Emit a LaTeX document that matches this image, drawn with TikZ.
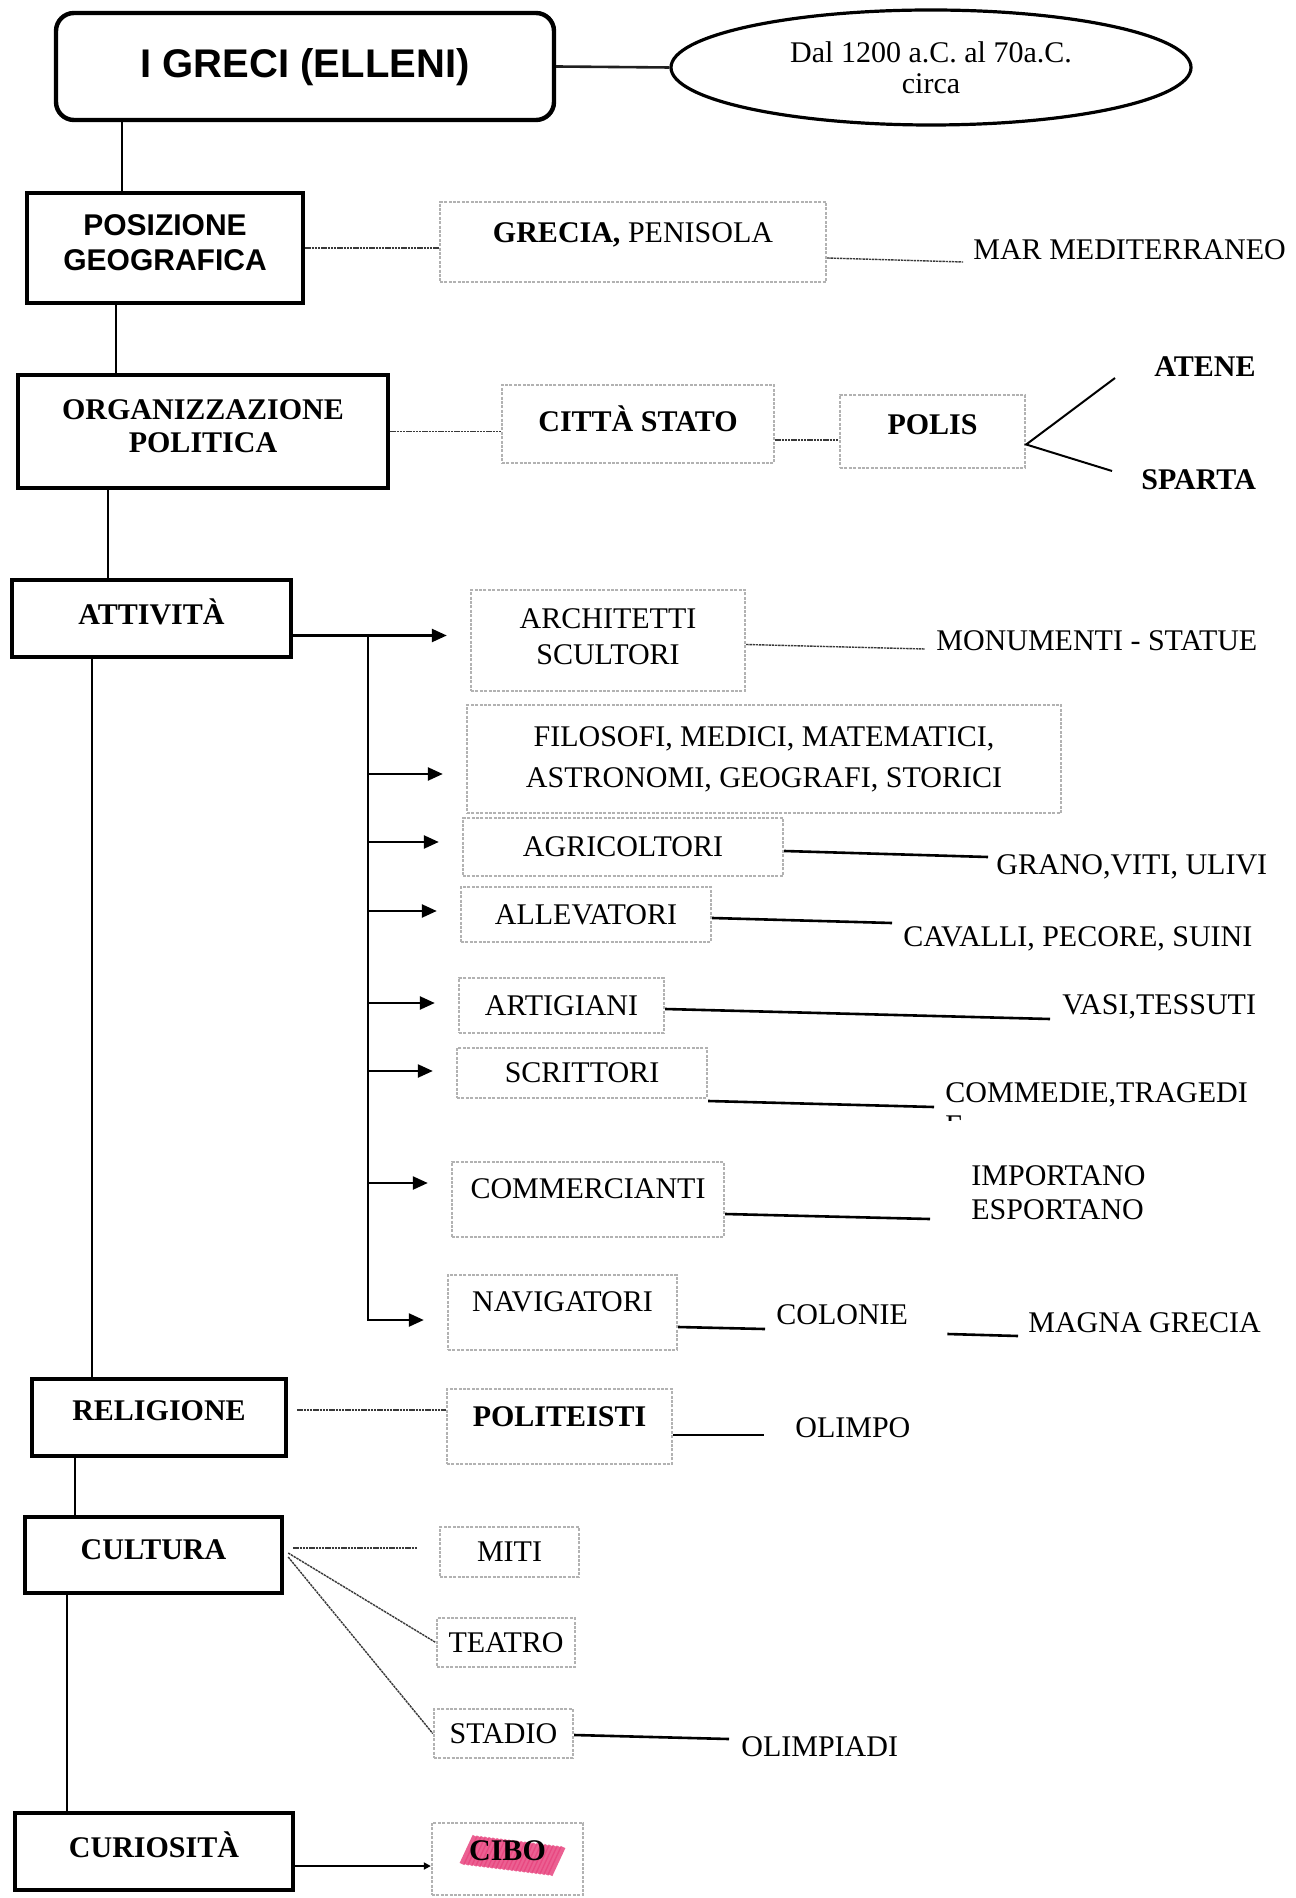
\documentclass[tikz,border=0pt]{standalone}
\usepackage{fontspec}
\setmainfont{Liberation Serif}
\setsansfont{Liberation Sans}
\usetikzlibrary{arrows.meta,shapes.geometric}
\definecolor{hlpink}{RGB}{232,69,127}
\begin{document}
\begin{tikzpicture}[x=0.5pt,y=-0.5pt,
  sz/.style 2 args={minimum width=#1*0.5pt,minimum height=#2*0.5pt},
  bx/.style={inner sep=0pt,font=\fontsize{15}{17.5}\selectfont,align=center},
  bf/.style={font=\fontsize{15}{17.5}\selectfont\bfseries},
  mainbox/.style={bx,draw=black,line width=2.2pt,font=\fontsize{15}{17.5}\selectfont\bfseries},
  sansbox/.style={mainbox,font=\fontsize{15}{17.5}\selectfont\sffamily\bfseries},
  subbox/.style={bx,draw=gray!60,line width=1.2pt,dash pattern=on 1.5pt off 0.7pt},
  lbl/.style={inner sep=0pt,font=\fontsize{15}{17.5}\selectfont,anchor=west,align=left},
  lift/.style={text depth=#1pt},
  fine/.style={draw=gray!45!black,line width=0.7pt,dash pattern=on 1.2pt off 0.4pt},
  strong/.style={draw=black,line width=1.3pt},
  spine/.style={draw=black,line width=0.8pt},
  forkline/.style={draw=black,line width=1pt},
  arr/.style={draw=black,line width=1.2pt,-{Triangle[length=7.5pt,width=6.5pt]},shorten >=11.5pt},
]
\fill[white] (0,0) rectangle (1295,1898);
\useasboundingbox (0,0) rectangle (1295,1898);

% ---------- header ----------
\node[sansbox,sz={498}{107},rounded corners=9pt,font=\fontsize{20}{24}\selectfont\sffamily\bfseries,lift=3] (title) at (305,66.5) {I GRECI (ELLENI)};
\node[ellipse,draw=black,line width=1.6pt,bx,sz={520}{115},font=\fontsize{15}{15.5}\selectfont] (era) at (931,67.5) {Dal 1200 a.C. al 70a.C.\\circa};

% ---------- posizione ----------
\node[sansbox,sz={276}{110},lift=5.5] (pos) at (165,248) {POSIZIONE\\GEOGRAFICA};
\node[subbox,sz={386}{80},lift=9] (gre) at (633,242) {\textbf{GRECIA,} PENISOLA};
\node[lbl] (mar) at (973,250) {MAR MEDITERRANEO};

% ---------- organizzazione ----------
\node[mainbox,sz={370}{113},lift=5,font=\fontsize{15}{16.5}\selectfont\bfseries] (org) at (203,431.5) {ORGANIZZAZIONE\\POLITICA};
\node[subbox,bf,sz={272}{78},lift=5] (cit) at (638,424) {CITTÀ STATO};
\node[subbox,bf,sz={185}{73},lift=6.5] (pol) at (932.5,431.5) {POLIS};
\node[lbl,bf] (ate) at (1154,367) {ATENE};
\node[lbl,bf] (spa) at (1141,480) {SPARTA};

% ---------- attivita ----------
\node[mainbox,sz={279}{77},lift=6.5] (att) at (151.5,618.5) {ATTIVITÀ};
\node[subbox,sz={274}{101},lift=3.5,font=\fontsize{15}{18}\selectfont] (arc) at (608,640.5) {ARCHITETTI\\SCULTORI};
\node[lbl] (mon) at (936,641) {MONUMENTI - STATUE};
\node[subbox,sz={594}{108},lift=2,font=\fontsize{15}{20.5}\selectfont] (fil) at (764,759) {FILOSOFI, MEDICI, MATEMATICI,\\ASTRONOMI, GEOGRAFI, STORICI};
\node[subbox,sz={320}{58}] (agr) at (623,847) {AGRICOLTORI};
\node[lbl] (gra) at (996,867) {GRANO,VITI, ULIVI};
\node[subbox,sz={250}{55}] (all) at (586,914.5) {ALLEVATORI};
\node[lbl] (cav) at (903,939) {CAVALLI, PECORE, SUINI};
\node[subbox,sz={205}{55}] (art) at (561.5,1005.5) {ARTIGIANI};
\node[lbl] (vas) at (1062,1007) {VASI,TESSUTI};
\node[subbox,sz={250}{50}] (scr) at (582,1073) {SCRITTORI};
\node[lbl] (com) at (945,1095) {COMMEDIE,TRAGEDI};
\begin{scope}
  \clip (930,1108) rectangle (985,1120);
  \node[lbl,anchor=base west] (efrag) at (945,1135) {E};
\end{scope}
\node[subbox,sz={272}{75},lift=10.5] (cmm) at (588,1199.5) {COMMERCIANTI};
\node[lbl,font=\fontsize{15}{17}\selectfont] (imp) at (971,1193) {IMPORTANO\\ESPORTANO};
\node[subbox,sz={229}{75},lift=10.5] (nav) at (562.5,1312.5) {NAVIGATORI};
\node[lbl] (col) at (776,1315) {COLONIE};
\node[lbl] (mag) at (1028,1323) {MAGNA GRECIA};

% ---------- religione ----------
\node[mainbox,sz={254}{77},lift=6.5] (rel) at (159,1417.5) {RELIGIONE};
\node[subbox,bf,sz={225}{75},lift=9.5] (pte) at (559.5,1426.5) {POLITEISTI};
\node[lbl] (oli) at (795,1428) {OLIMPO};

% ---------- cultura ----------
\node[mainbox,sz={257}{76},lift=5] (cul) at (153.5,1555) {CULTURA};
\node[subbox,sz={139}{50}] (mit) at (509.5,1552) {MITI};
\node[subbox,sz={138}{49}] (tea) at (506,1642.5) {TEATRO};
\node[subbox,sz={139}{49}] (sta) at (503.5,1733.5) {STADIO};
\node[lbl] (olp) at (741,1747) {OLIMPIADI};

% ---------- curiosita ----------
\node[mainbox,sz={278}{77},lift=6.5] (cur) at (154,1851.5) {CURIOSITÀ};
\foreach \k in {0,...,22} {
  \pgfmathsetmacro\xx{462+4*\k}
  \pgfmathsetmacro\yy{1864+0.5*\k}
  \draw[hlpink,line width=2.6pt,opacity=0.85] (\xx,\yy) -- (\xx+13,\yy-28);
}
\node[subbox,bf,sz={151}{72},lift=8] (cib) at (507.5,1859) {CIBO};

% ---------- spine ----------
\coordinate (s1) at (122,0);
\coordinate (s2) at (116,0);
\coordinate (s3) at (108,0);
\coordinate (s4) at (92,0);
\coordinate (s5) at (75,0);
\coordinate (s6) at (67,0);
\coordinate (tx) at (368,0);
\draw[spine] (title.south -| s1) -- (pos.north -| s1);
\draw[spine] (pos.south -| s2) -- (org.north -| s2);
\draw[spine] (org.south -| s3) -- (att.north -| s3);
\draw[spine] (att.south -| s4) -- (rel.north -| s4);
\draw[spine] (rel.south -| s5) -- (cul.north -| s5);
\draw[spine] (cul.south -| s6) -- (cur.north -| s6);

% ---------- connectors ----------
\draw[strong,draw=gray!25!black] (title.east) -- (era.west);
\draw[fine] (pos.east) -- (pos.east -| gre.west);
\draw[fine] ([yshift=-8pt]gre.east) -- ([xshift=-5pt,yshift=-6pt]mar.west);
\draw[fine] (org.east) -- (org.east -| cit.west);
\coordinate (cp) at ([yshift=-8pt]cit.east);
\draw[fine] (cp) -- (cp -| pol.west);
\coordinate (fork) at ([yshift=-6.5pt]pol.east);
\coordinate (ateE) at (1115,378);
\coordinate (spaE) at (1112,471);
\draw[forkline] (ateE) -- (fork) -- (spaE);

\coordinate (pa) at ([yshift=2.5pt]arc.west);
\coordinate (pn) at ([yshift=-3.75pt]nav.west);
\draw[arr] (att.east |- pa) -- (pa);
\draw[arr] (pa -| tx) -- (pn -| tx) -- (pn);
\foreach \n/\s in {fil/-7.5pt,agr/2.5pt,all/1.75pt,art/1.25pt,scr/1pt,cmm/8.25pt} {
  \coordinate (p\n) at ([yshift=\s]\n.west);
  \draw[arr] (p\n -| tx) -- (p\n);
}

\draw[fine] ([yshift=-2pt]arc.east) -- ([xshift=-5.5pt,yshift=-4pt]mon.west);
\draw[strong] ([yshift=-2pt]agr.east) -- ([xshift=-4pt,yshift=5pt]gra.west);
\draw[strong] ([yshift=-1.75pt]all.east) -- ([xshift=-5.5pt,yshift=8pt]cav.west);
\draw[strong] ([yshift=-1.75pt]art.east) -- ([xshift=-6pt,yshift=-6pt]vas.west);
\draw[strong] ([yshift=-14pt]scr.east) -- ([xshift=-5.5pt,yshift=-6pt]com.west);
\draw[strong] ([yshift=-7.25pt]cmm.east) -- ([xshift=-20.5pt,yshift=-13pt]imp.west);
\draw[strong] ([yshift=-7.25pt]nav.east) -- ([xshift=-5.5pt,yshift=-7pt]col.west);
\draw[strong] ([xshift=19.5pt,yshift=-9.5pt]col.east) -- ([xshift=-5pt,yshift=-6.5pt]mag.west);

\coordinate (pr) at ([xshift=4.5pt,yshift=3.75pt]rel.east);
\draw[fine] (pr) -- (pr -| pte.west);
\draw[strong] ([yshift=-4.25pt]pte.east) -- ([xshift=-15.5pt,yshift=-3.5pt]oli.west);

\coordinate (pm) at ([xshift=4.5pt,yshift=3.5pt]cul.east);
\draw[fine] (pm) -- ([xshift=-10.5pt]pm -| mit.west);
\draw[fine] ([xshift=2pt,yshift=1pt]cul.east) -- (tea.west);
\draw[fine] ([xshift=2pt,yshift=-1pt]cul.east) -- (sta.west);
\draw[strong] ([yshift=-0.75pt]sta.east) -- ([xshift=-6pt,yshift=4pt]olp.west);

\coordinate (pc) at ([yshift=-7.25pt]cur.east);
\draw[strong,-{Triangle[length=3.5pt,width=3.5pt]}] (pc) -- (pc -| cib.west);
\end{tikzpicture}
\end{document}
